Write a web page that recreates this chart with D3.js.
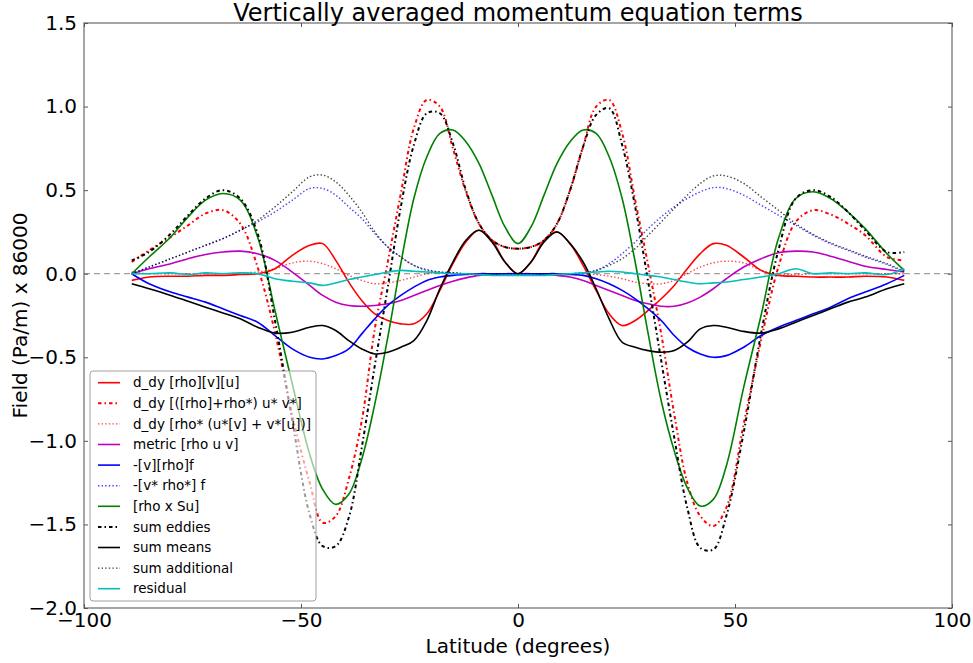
<!DOCTYPE html>
<html>
<head>
<meta charset="utf-8">
<script src="https://cdn.jsdelivr.net/npm/d3@7"></script>
<style>
  html, body { margin: 0; padding: 0; background: #fff; }
  svg { display: block; font-family: "DejaVu Sans", sans-serif; }
</style>
</head>
<body>
<svg id="chart" width="973" height="663"></svg>
<script>
// Latitude grid (degrees) shared by every term
const lat = [-89,-85,-80,-76,-72,-68,-64,-60,-56,-52,-48,-45,-42,-39,-36,-33,-30,-27,-24,-21,-18,-15,-12,-9,-6,-3,
  0,
  3,6,9,12,15,18,21,24,27,30,33,36,39,42,45,48,52,56,60,64,68,72,76,80,85,89];

// Vertically averaged terms, Pa/m x 86000
const ddyMean = [-0.04,-0.02,-0.015,-0.015,-0.01,-0.01,-0.005,0.0,0.03,0.11,0.17,0.18,0.08,-0.05,-0.16,-0.24,-0.28,-0.30,-0.30,-0.24,-0.10,0.06,0.19,0.26,0.20,0.07,
  0.0,
  0.07,0.20,0.25,0.18,0.05,-0.10,-0.24,-0.31,-0.28,-0.22,-0.15,-0.07,0.03,0.12,0.18,0.17,0.10,0.02,-0.01,-0.015,-0.02,-0.02,-0.02,-0.015,-0.02,-0.04];
const ddyEddy = [0.07,0.14,0.22,0.29,0.36,0.38,0.30,0.04,-0.35,-0.85,-1.25,-1.49,-1.45,-1.23,-0.88,-0.33,0.07,0.48,0.87,1.04,1.00,0.75,0.49,0.30,0.20,0.16,
  0.15,
  0.16,0.20,0.30,0.50,0.76,1.00,1.04,0.84,0.44,0.05,-0.36,-0.84,-1.25,-1.45,-1.51,-1.40,-0.90,-0.40,0.04,0.31,0.38,0.355,0.30,0.23,0.10,0.08];
const ddyStar = [0.01,0.0,0.0,0.0,0.0,0.0,0.005,0.01,0.03,0.065,0.075,0.06,0.03,-0.01,-0.04,-0.06,-0.055,-0.04,-0.02,0.0,0.005,0.005,0.0,0.0,0.0,0.0,
  0.0,
  0.0,0.0,0.0,0.0,0.0,-0.005,-0.015,-0.03,-0.05,-0.06,-0.06,-0.04,0.0,0.04,0.065,0.075,0.065,0.02,0.0,-0.005,0.0,0.0,0.0,0.0,0.0,0.0];
const metric = [0.0,0.03,0.06,0.09,0.115,0.13,0.135,0.12,0.08,0.01,-0.07,-0.13,-0.17,-0.19,-0.195,-0.19,-0.18,-0.16,-0.13,-0.10,-0.07,-0.045,-0.025,-0.01,-0.005,0.0,
  0.0,
  0.0,-0.005,-0.01,-0.02,-0.04,-0.07,-0.10,-0.13,-0.16,-0.18,-0.195,-0.195,-0.175,-0.14,-0.09,-0.03,0.04,0.09,0.125,0.135,0.13,0.105,0.075,0.045,0.025,0.01];
const meanCoriolis = [0.0,-0.06,-0.11,-0.14,-0.17,-0.21,-0.25,-0.29,-0.37,-0.45,-0.50,-0.51,-0.49,-0.45,-0.36,-0.27,-0.19,-0.13,-0.08,-0.04,-0.02,-0.01,-0.005,0.0,0.0,0.0,
  0.0,
  0.0,0.0,0.0,-0.005,-0.01,-0.03,-0.06,-0.10,-0.15,-0.21,-0.28,-0.37,-0.44,-0.48,-0.50,-0.49,-0.44,-0.37,-0.32,-0.28,-0.24,-0.20,-0.15,-0.11,-0.06,-0.01];
const eddyCoriolis = [0.0,0.04,0.09,0.13,0.17,0.21,0.26,0.31,0.37,0.44,0.51,0.51,0.47,0.40,0.33,0.24,0.16,0.10,0.05,0.025,0.01,0.005,0.0,0.0,0.0,0.0,
  0.0,
  0.0,0.0,0.0,0.0,0.005,0.02,0.06,0.12,0.19,0.27,0.34,0.40,0.45,0.49,0.515,0.51,0.47,0.41,0.35,0.29,0.23,0.18,0.14,0.10,0.055,0.01];
const rhoSu = [0.0,0.10,0.22,0.34,0.44,0.48,0.44,0.22,-0.22,-0.66,-1.08,-1.29,-1.38,-1.32,-1.11,-0.78,-0.38,0.06,0.45,0.70,0.84,0.86,0.79,0.66,0.47,0.28,
  0.18,
  0.28,0.47,0.66,0.79,0.86,0.84,0.70,0.45,0.07,-0.36,-0.76,-1.06,-1.28,-1.39,-1.35,-1.15,-0.68,-0.25,0.21,0.45,0.49,0.45,0.37,0.27,0.12,0.02];
const sumEddies = [0.08,0.13,0.24,0.35,0.45,0.50,0.45,0.24,-0.28,-0.88,-1.44,-1.63,-1.63,-1.46,-1.04,-0.55,-0.08,0.40,0.77,0.96,0.96,0.78,0.50,0.30,0.20,0.16,
  0.15,
  0.16,0.20,0.30,0.50,0.76,0.95,0.99,0.77,0.40,-0.05,-0.52,-0.98,-1.40,-1.64,-1.65,-1.45,-0.95,-0.36,0.14,0.45,0.50,0.46,0.37,0.26,0.13,0.13];
const sumMeans = [-0.06,-0.09,-0.13,-0.165,-0.20,-0.235,-0.27,-0.32,-0.355,-0.35,-0.32,-0.31,-0.34,-0.40,-0.45,-0.48,-0.47,-0.44,-0.40,-0.28,-0.09,0.07,0.20,0.26,0.19,0.07,
  0.0,
  0.07,0.19,0.25,0.18,0.07,-0.09,-0.27,-0.41,-0.44,-0.46,-0.47,-0.46,-0.41,-0.33,-0.31,-0.32,-0.345,-0.355,-0.33,-0.29,-0.25,-0.21,-0.17,-0.14,-0.09,-0.06];
const sumAdditional = [0.0,0.04,0.09,0.13,0.17,0.21,0.26,0.32,0.40,0.49,0.58,0.59,0.55,0.47,0.37,0.25,0.16,0.10,0.05,0.02,0.01,0.005,0.0,0.0,0.0,0.0,
  0.0,
  0.0,0.0,0.0,0.0,0.005,0.02,0.05,0.09,0.15,0.23,0.31,0.39,0.47,0.54,0.585,0.585,0.54,0.46,0.38,0.30,0.235,0.185,0.145,0.105,0.06,0.015];
const residual = [0.0,0.0,0.005,-0.005,0.005,0.0,0.005,0.0,-0.03,-0.045,-0.055,-0.07,-0.055,-0.035,-0.02,-0.005,0.01,0.02,0.015,0.01,0.005,0.0,0.0,-0.005,-0.01,-0.01,
  -0.01,
  -0.01,-0.01,-0.005,0.0,0.005,0.01,0.015,0.01,0.0,-0.01,-0.02,-0.035,-0.05,-0.06,-0.055,-0.05,-0.035,-0.02,0.0,0.03,0.0,0.005,0.0,0.005,-0.005,0.03];

const xTicks = [-100, -50, 0, 50, 100];
const yTicks = [-2.0, -1.5, -1.0, -0.5, 0.0, 0.5, 1.0, 1.5];

// Series definitions: label, values, colour, dash style
const series = [
  { label: "d_dy [rho][v][u]", values: ddyMean, color: "#ff0000", style: "solid" },
  { label: "d_dy [([rho]+rho*) u* v*]", values: ddyEddy, color: "#ff0000", style: "dashdot" },
  { label: "d_dy [rho* (u*[v] + v*[u])]", values: ddyStar, color: "#ff0000", style: "dotted" },
  { label: "metric [rho u v]", values: metric, color: "#bf00bf", style: "solid" },
  { label: "-[v][rho]f", values: meanCoriolis, color: "#0000ff", style: "solid" },
  { label: "-[v* rho*] f", values: eddyCoriolis, color: "#0000ff", style: "dotted" },
  { label: "[rho x Su]", values: rhoSu, color: "#008000", style: "solid" },
  { label: "sum eddies", values: sumEddies, color: "#000000", style: "dashdot" },
  { label: "sum means", values: sumMeans, color: "#000000", style: "solid" },
  { label: "sum additional", values: sumAdditional, color: "#000000", style: "dotted" },
  { label: "residual", values: residual, color: "#00bfbf", style: "solid" }
];

const styles = {
  solid:   { dash: null,          width: 1.6, opacity: 1 },
  dashdot: { dash: "3.5,3,1.5,3", width: 2.0, opacity: 1 },
  dotted:  { dash: "1.4,2.2",     width: 1.4, opacity: 0.75 }
};

const svg = d3.select("#chart");
const margin = { left: 84, right: 21, top: 23, bottom: 55 };
const W = 973, H = 663;

const x = d3.scaleLinear().domain([-100, 100]).range([margin.left, W - margin.right]);
const y = d3.scaleLinear().domain([-2.0, 1.5]).range([H - margin.bottom, margin.top]);

svg.append("defs").append("clipPath").attr("id", "plotclip")
  .append("rect")
  .attr("x", x(-100)).attr("y", y(1.5))
  .attr("width", x(100) - x(-100)).attr("height", y(-2.0) - y(1.5));

// Zero reference line
svg.append("line")
  .attr("x1", x(-100)).attr("x2", x(100))
  .attr("y1", y(0)).attr("y2", y(0))
  .attr("stroke", "#a0a0a0").attr("stroke-width", 1.2)
  .attr("stroke-dasharray", "6,4");

// Curves
const line = d3.line().curve(d3.curveCatmullRom.alpha(0.5));
const plot = svg.append("g").attr("clip-path", "url(#plotclip)");
series.forEach(s => {
  const st = styles[s.style];
  plot.append("path")
    .attr("d", line(lat.map((la, i) => [x(la), y(s.values[i])])))
    .attr("fill", "none")
    .attr("stroke", s.color)
    .attr("stroke-width", st.width)
    .attr("stroke-opacity", st.opacity)
    .attr("stroke-dasharray", st.dash)
    .attr("stroke-linejoin", "round");
});

// Frame
svg.append("rect")
  .attr("x", x(-100)).attr("y", y(1.5))
  .attr("width", x(100) - x(-100)).attr("height", y(-2.0) - y(1.5))
  .attr("fill", "none").attr("stroke", "#7f7f7f").attr("stroke-width", 1.4);

// Axes with inward ticks, on all four sides
const fmtY = d => d3.format(".1f")(d).replace("-", "\u2212");
const fmtX = d => String(d).replace("-", "\u2212");

const axBottom = svg.append("g").attr("transform", `translate(0,${y(-2.0)})`)
  .call(d3.axisBottom(x).tickValues(xTicks).tickFormat(fmtX).tickSize(-4).tickPadding(5));
const axTop = svg.append("g").attr("transform", `translate(0,${y(1.5)})`)
  .call(d3.axisTop(x).tickValues(xTicks).tickFormat("").tickSize(-4));
const axLeft = svg.append("g").attr("transform", `translate(${x(-100)},0)`)
  .call(d3.axisLeft(y).tickValues(yTicks).tickFormat(fmtY).tickSize(-4).tickPadding(7));
const axRight = svg.append("g").attr("transform", `translate(${x(100)},0)`)
  .call(d3.axisRight(y).tickValues(yTicks).tickFormat("").tickSize(-4));

[axBottom, axTop, axLeft, axRight].forEach(a => {
  a.select(".domain").remove();
  a.selectAll(".tick line").attr("stroke", "#555").attr("stroke-width", 1);
  a.selectAll(".tick text").attr("fill", "#000").style("font-size", "20px")
    .style("font-family", "DejaVu Sans, sans-serif");
});

// Title and axis labels
svg.append("text")
  .attr("x", x(0)).attr("y", 21)
  .attr("text-anchor", "middle")
  .style("font-size", "24px")
  .text("Vertically averaged momentum equation terms");

svg.append("text")
  .attr("x", x(0)).attr("y", 653)
  .attr("text-anchor", "middle")
  .style("font-size", "20px")
  .text("Latitude (degrees)");

svg.append("text")
  .attr("transform", `translate(27,${(y(1.5) + y(-2.0)) / 2}) rotate(-90)`)
  .attr("text-anchor", "middle")
  .style("font-size", "20px")
  .text("Field (Pa/m) x 86000");

// Legend
const lg = svg.append("g").attr("transform", "translate(90,371)");
lg.append("rect")
  .attr("width", 226).attr("height", 230)
  .attr("rx", 3).attr("ry", 3)
  .attr("fill", "#fff").attr("fill-opacity", 0.6)
  .attr("stroke", "#a0a0a0").attr("stroke-width", 1);
series.forEach((s, i) => {
  const st = styles[s.style];
  const ry = 11.7 + i * 20.6;
  lg.append("line")
    .attr("x1", 8).attr("x2", 30).attr("y1", ry).attr("y2", ry)
    .attr("stroke", s.color)
    .attr("stroke-width", st.width)
    .attr("stroke-opacity", st.opacity)
    .attr("stroke-dasharray", st.dash);
  lg.append("text")
    .attr("x", 43).attr("y", ry)
    .attr("dy", "0.35em")
    .style("font-size", "13.5px")
    .text(s.label);
});
</script>
</body>
</html>
